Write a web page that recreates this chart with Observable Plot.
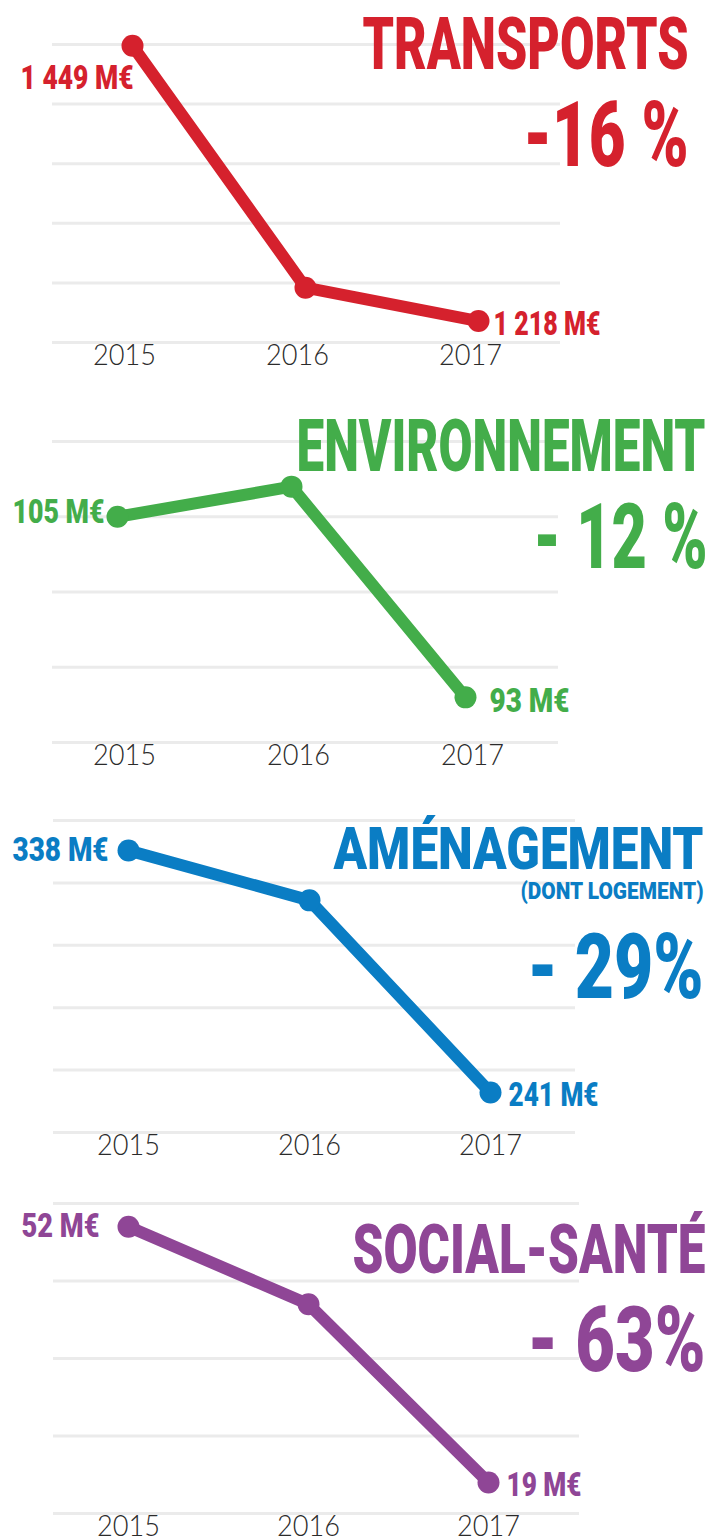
<!DOCTYPE html>
<html><head><meta charset="utf-8">
<script src="https://cdn.jsdelivr.net/npm/d3@7"></script>
<script src="https://cdn.jsdelivr.net/npm/@observablehq/plot@0.6"></script>
<style>
body{margin:0;background:#fff;width:715px;overflow:hidden}
#chart svg{display:block}
</style></head><body><div id="chart"></div>
<script>
// ---- data ----
const years = [2015, 2016, 2017];
const categories = ["TRANSPORTS", "ENVIRONNEMENT", "AMÉNAGEMENT", "SOCIAL-SANTÉ"];
const subtitles = ["", "", "(DONT LOGEMENT)", ""];
const changes = ["-16 %", "- 12 %", "- 29%", "- 63%"];
const transports = [1449, 1246, 1218];
const environnement = [105, 107, 93];
const amenagement = [338, 318, 241];
const socialSante = [52, 42, 19];
const gridTicks = [
  [1200, 1250, 1300, 1350, 1400, 1450],
  [90, 95, 100, 105, 110],
  [225, 250, 275, 300, 325, 350],
  [15, 25, 35, 45, 55]
];
const colors = ["#d5212d", "#43ad4a", "#0a7dc4", "#8f4696"];
const series = [transports, environnement, amenagement, socialSante];

// ---- layout (positions / sizes) ----
const layout = [
  {h:388, mt:44, mb:46, ml:52, mr:155, il:80, ir:82, yearDx:-8,
   first:[1,43,113], last:[15,14,107],
   texts:[["title",688,68,72,326],["change",688,165,91,165]]},
  {h:390, mt:53, mb:36, ml:52, mr:157, il:65, ir:93, yearDx:7,
   first:[-13,6,92], last:[24,15,80],
   texts:[["title",705,82,73,409],["change",707,179,91,174]]},
  {h:390, mt:42, mb:36, ml:53, mr:140, il:75, ir:85, yearDx:0,
   first:[-20,11,96], last:[18,13,90],
   texts:[["title",703,90,59,370],["sub",703,120,24,183],["change",703,219,90,176]]},
  {h:369, mt:35, mb:24, ml:53, mr:136, il:74, ir:91, yearDx:0,
   first:[-29,10,78], last:[18,13,75],
   texts:[["title",705,104,69,353],["change",705,202,91,178]]}
];

const fmtNum = d3.formatLocale({decimal: ",", thousands: " ", grouping: [3], currency: ["", ""]}).format(",d");
const boldFont = "Roboto, 'DejaVu Sans Condensed', sans-serif";
const container = document.getElementById("chart");

series.forEach((vals, i) => {
  const L = layout[i];
  const color = colors[i];
  const data = years.map((y, j) => ({year: y, value: vals[j], label: fmtNum(vals[j]) + " M€"}));
  const ticks = gridTicks[i];
  const textStrings = {title: categories[i], sub: subtitles[i], change: changes[i]};
  const headerMarks = L.texts.map(([key, right, base, fs]) =>
    Plot.text([textStrings[key]], {
      frameAnchor: "top-left", text: d => d,
      dx: right - L.ml, dy: base - L.mt,
      textAnchor: "end", lineAnchor: "bottom",
      fill: color, fontSize: fs, fontWeight: 900, fontFamily: boldFont,
      ariaDescription: "hdr-" + key
    })
  );
  const svg = Plot.plot({
    width: 715, height: L.h,
    marginTop: L.mt, marginBottom: L.mb, marginLeft: L.ml, marginRight: L.mr,
    style: {background: "transparent", overflow: "visible"},
    x: {type: "point", domain: years, padding: 0, insetLeft: L.il, insetRight: L.ir, axis: null},
    y: {domain: [d3.min(ticks), d3.max(ticks)], axis: null},
    marks: [
      Plot.ruleY(ticks, {stroke: "#ebebeb", strokeWidth: 3}),
      Plot.line(data, {x: "year", y: "value", stroke: color, strokeWidth: 12, strokeLinejoin: "round"}),
      Plot.dot(data, {x: "year", y: "value", r: 11, fill: color, stroke: "none"}),
      Plot.text([data[0]], {x: "year", y: "value", text: "label", textAnchor: "end", lineAnchor: "bottom",
        dx: L.first[0], dy: L.first[1], fill: color, fontSize: 34, fontWeight: 900, fontFamily: boldFont, ariaDescription: "lab-first"}),
      Plot.text([data[data.length - 1]], {x: "year", y: "value", text: "label", textAnchor: "start", lineAnchor: "bottom",
        dx: L.last[0], dy: L.last[1], fill: color, fontSize: 34, fontWeight: 900, fontFamily: boldFont, ariaDescription: "lab-last"}),
      ...headerMarks,
      Plot.text(years, {x: d => d, text: d => String(d), frameAnchor: "bottom", lineAnchor: "top",
        dy: 1, dx: L.yearDx, fill: "#2b2b2b", fontSize: 30, fontWeight: 300, fontFamily: "Lato, 'Open Sans', sans-serif", ariaDescription: "years"})
    ]
  });
  const s = d3.select(svg);
  const fit = (sel, w) => s.selectAll(sel).attr("textLength", w).attr("lengthAdjust", "spacingAndGlyphs");
  fit('g[aria-description="years"] text', 63);
  fit('g[aria-description="lab-first"] text', L.first[2]);
  fit('g[aria-description="lab-last"] text', L.last[2]);
  L.texts.forEach(([key, , , , w]) => fit(`g[aria-description="hdr-${key}"] text`, w));
  container.appendChild(svg);
});
</script></body></html>
